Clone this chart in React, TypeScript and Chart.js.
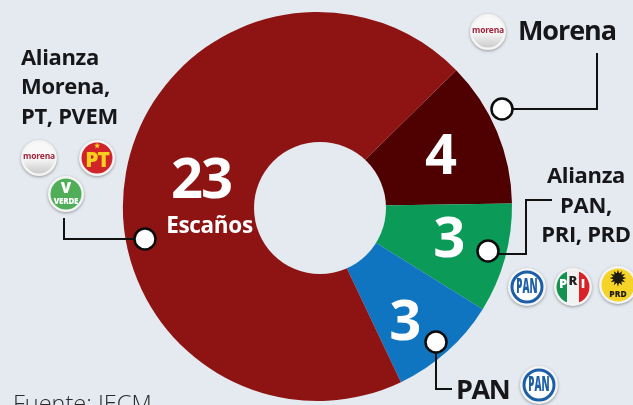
import React, { useEffect, useRef } from "react";
import { Chart, registerables } from "chart.js";

Chart.register(...registerables);

const categories = ["Morena", "Alianza PAN, PRI, PRD", "PAN", "Alianza Morena, PT, PVEM"];
const seats = [4, 3, 3, 23];
const sliceColors = ["#4f0101", "#0b9a58", "#0f75c1", "#8e1413"];
const valueOffsets = [[6, 1], [9, 1], [3, 23], [9, -2]];
const BG = "#e4eaf0";
const FONT = '"Open Sans", sans-serif';

function badge(ctx: CanvasRenderingContext2D, x: number, y: number, r: number, fill: string) {
  ctx.save();
  ctx.shadowColor = "rgba(0,0,0,0.35)";
  ctx.shadowBlur = 3;
  ctx.shadowOffsetY = 1;
  ctx.fillStyle = "#f4f4f4";
  ctx.beginPath();
  ctx.arc(x, y, r, 0, Math.PI * 2);
  ctx.fill();
  ctx.restore();
  ctx.fillStyle = fill;
  ctx.beginPath();
  ctx.arc(x, y, r - 2.5, 0, Math.PI * 2);
  ctx.fill();
}

function label(ctx: CanvasRenderingContext2D, t: string, x: number, y: number, size: number, color: string, align: CanvasTextAlign = "center", weight = 700, spacing = 0) {
  ctx.font = `${weight} ${size}px ${FONT}`;
  (ctx as any).letterSpacing = `${spacing}px`;
  ctx.fillStyle = color;
  ctx.textAlign = align;
  ctx.textBaseline = "middle";
  ctx.fillText(t, x, y);
  (ctx as any).letterSpacing = "0px";
}

function morena(ctx: CanvasRenderingContext2D, x: number, y: number) {
  badge(ctx, x, y, 18, "#f8f8f8");
  const g = ctx.createLinearGradient(0, y, 0, y + 16);
  g.addColorStop(0, "rgba(190,190,190,0)");
  g.addColorStop(1, "rgba(190,190,190,0.8)");
  ctx.fillStyle = g;
  ctx.beginPath();
  ctx.arc(x, y, 15.5, 0, Math.PI);
  ctx.fill();
  label(ctx, "morena", x, y - 1, 8.5, "#a3243b", "center", 700, -0.2);
}
function pt(ctx: CanvasRenderingContext2D, x: number, y: number) {
  badge(ctx, x, y, 18, "#d1232a");
  label(ctx, "PT", x, y + 3, 21, "#f7cf1d", "center", 800, -1);
  label(ctx, "★", x, y - 12, 7, "#f7cf1d");
}
function verde(ctx: CanvasRenderingContext2D, x: number, y: number) {
  badge(ctx, x, y, 18, "#4fae57");
  label(ctx, "V", x, y - 5, 15, "#ffffff", "center", 800);
  label(ctx, "VERDE", x, y + 8, 8, "#ffffff", "center", 800, -0.2);
}
function pan(ctx: CanvasRenderingContext2D, x: number, y: number) {
  badge(ctx, x, y, 19, "#ffffff");
  ctx.strokeStyle = "#1c5ea8";
  ctx.lineWidth = 3;
  ctx.beginPath();
  ctx.arc(x, y, 15, 0, Math.PI * 2);
  ctx.stroke();
  ctx.save();
  ctx.translate(x, y);
  ctx.scale(0.72, 1.5);
  label(ctx, "PAN", 0, 0, 13.5, "#1c5ea8", "center", 800);
  ctx.restore();
}
function pri(ctx: CanvasRenderingContext2D, x: number, y: number) {
  badge(ctx, x, y, 19, "#f2f2f2");
  ctx.save();
  ctx.beginPath();
  ctx.arc(x, y, 16.5, 0, Math.PI * 2);
  ctx.clip();
  ctx.fillStyle = "#14924f";
  ctx.fillRect(x - 17, y - 17, 11, 34);
  ctx.fillStyle = "#da2128";
  ctx.fillRect(x + 6, y - 17, 11, 34);
  ctx.restore();
  label(ctx, "P", x - 10, y - 3, 13, "#ffffff", "center", 800);
  label(ctx, "R", x, y - 6, 13, "#222222", "center", 800);
  label(ctx, "I", x + 10, y - 3, 13, "#ffffff", "center", 800);
}
function prd(ctx: CanvasRenderingContext2D, x: number, y: number) {
  badge(ctx, x, y, 19, "#f5d327");
  label(ctx, "✹", x, y - 5, 19, "#1d1a10");
  label(ctx, "PRD", x, y + 10, 8.5, "#1d1a10", "center", 800);
}

const overlay = {
  id: "overlay",
  afterDatasetsDraw(chart: any) {
    const ctx: CanvasRenderingContext2D = chart.ctx;
    ctx.save();
    // reference's hole sits slightly off the ring's centre
    ctx.fillStyle = BG;
    ctx.beginPath();
    ctx.arc(320, 208, 66, 0, Math.PI * 2);
    ctx.fill();

    const arcs = chart.getDatasetMeta(0).data;
    arcs.forEach((a: any, i: number) => {
      const c = a.getCenterPoint();
      const [dx, dy] = valueOffsets[i];
      label(ctx, String(seats[i]), c.x + dx, c.y + dy, 56, "#ffffff", "center", 700, i === 3 ? -2 : 0);
    });
    label(ctx, "Escaños", 209.5, 227, 22.5, "#ffffff", "center", 700, -0.3);

    const leaders = [
      [[64, 218], [64, 239], [145, 239]],
      [[597, 53], [597, 109], [502, 109]],
      [[552, 200], [526, 200], [526, 254], [488, 254]],
      [[452, 389], [436, 389], [436, 342]],
    ];
    const dots = [[145, 239], [502, 109], [488, 251], [436, 342]];
    ctx.strokeStyle = "#111111";
    ctx.lineWidth = 2;
    leaders.forEach((pts) => {
      ctx.beginPath();
      pts.forEach(([x, y], i) => (i ? ctx.lineTo(x, y) : ctx.moveTo(x, y)));
      ctx.stroke();
    });
    dots.forEach(([x, y]) => {
      ctx.fillStyle = "#ffffff";
      ctx.strokeStyle = "#0c0c0c";
      ctx.lineWidth = 2.5;
      ctx.beginPath();
      ctx.arc(x, y, 10.5, 0, Math.PI * 2);
      ctx.fill();
      ctx.stroke();
    });

    const ink = "#17171a";
    label(ctx, "Alianza", 21, 59, 22, ink, "left", 700, -0.35);
    label(ctx, "Morena,", 21, 88, 22, ink, "left", 700, -0.35);
    label(ctx, "PT, PVEM", 21, 118, 22, ink, "left", 700, -0.35);
    label(ctx, "Morena", 518, 32, 27, ink, "left", 700, -1.1);
    label(ctx, "Alianza", 586, 177, 22, ink, "center", 700, -0.35);
    label(ctx, "PAN,", 586, 207, 22, ink, "center", 700, -0.35);
    label(ctx, "PRI, PRD", 586, 236, 22, ink, "center", 700, -0.35);
    label(ctx, "PAN", 456, 391, 27, ink, "left", 700, -1.4);
    label(ctx, "Fuente: IECM", 13, 405, 23.5, "#2b2b2e", "left", 300);

    morena(ctx, 39, 158);
    pt(ctx, 97, 158);
    verde(ctx, 66, 194);
    morena(ctx, 488, 32);
    pan(ctx, 527, 287);
    pri(ctx, 573, 287);
    prd(ctx, 618, 285);
    pan(ctx, 539, 385);
    ctx.restore();
  },
};

export default function App() {
  const ref = useRef<HTMLCanvasElement>(null);
  useEffect(() => {
    document.body.style.margin = "0";
    document.body.style.background = BG;
    const chart = new Chart(ref.current!, {
      type: "doughnut",
      data: {
        labels: categories,
        datasets: [{ data: seats, backgroundColor: sliceColors, borderWidth: 0 }],
      },
      options: {
        responsive: false,
        animation: false,
        rotation: 45.5,
        cutout: "31%",
        layout: { padding: { left: 123, right: 121, top: 12, bottom: 4 } },
        plugins: { legend: { display: false }, tooltip: { enabled: false } },
      },
      plugins: [overlay],
    } as any);
    return () => chart.destroy();
  }, []);
  return <canvas ref={ref} width={633} height={405} style={{ display: "block", background: BG }} />;
}
